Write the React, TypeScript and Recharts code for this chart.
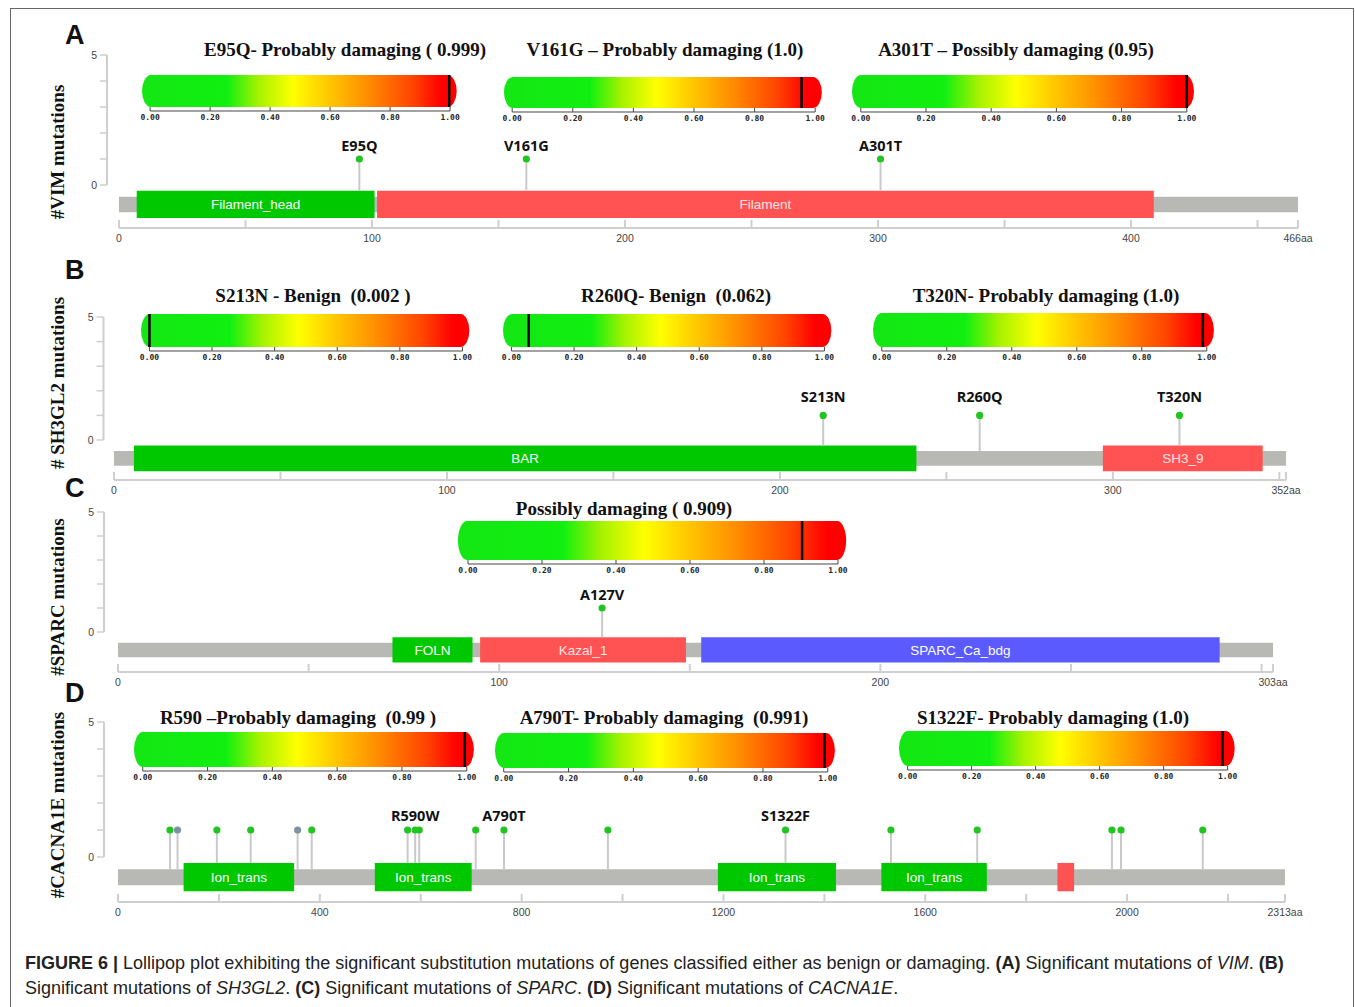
import { ComposedChart, XAxis, YAxis, Scatter, ReferenceArea, ReferenceLine } from "recharts"

// ---------- data ----------
const vimLength = 466
const vimTicks = [0, 50, 100, 150, 200, 250, 300, 350, 400, 450, 466]
const vimTickLabels = [0, 100, 200, 300, 400, 466]
const vimDomains = [
    { name: "Filament_head", start: 7, end: 101 },
    { name: "Filament", start: 102, end: 409 },
]
const vimMutations = [
    { pos: 95, count: 1, label: "E95Q", type: "missense" },
    { pos: 161, count: 1, label: "V161G", type: "missense" },
    { pos: 301, count: 1, label: "A301T", type: "missense" },
]
const vimScores = [
    { title: "E95Q- Probably damaging ( 0.999)", score: 0.997 },
    { title: "V161G – Probably damaging (1.0)", score: 0.955 },
    { title: "A301T – Possibly damaging (0.95)", score: 1.0 },
]

const sh3Length = 352
const sh3Ticks = [0, 50, 100, 150, 200, 250, 300, 350, 352]
const sh3TickLabels = [0, 100, 200, 300, 352]
const sh3Domains = [
    { name: "BAR", start: 6, end: 241 },
    { name: "SH3_9", start: 297, end: 345 },
]
const sh3Mutations = [
    { pos: 213, count: 1, label: "S213N", type: "missense" },
    { pos: 260, count: 1, label: "R260Q", type: "missense" },
    { pos: 320, count: 1, label: "T320N", type: "missense" },
]
const sh3Scores = [
    { title: "S213N - Benign  (0.002 )", score: 0.0 },
    { title: "R260Q- Benign  (0.062)", score: 0.055 },
    { title: "T320N- Probably damaging (1.0)", score: 0.988 },
]

const sparcLength = 303
const sparcTicks = [0, 50, 100, 150, 200, 250, 300, 303]
const sparcTickLabels = [0, 100, 200, 303]
const sparcDomains = [
    { name: "FOLN", start: 72, end: 93 },
    { name: "Kazal_1", start: 95, end: 149 },
    { name: "SPARC_Ca_bdg", start: 153, end: 289 },
]
const sparcMutations = [
    { pos: 127, count: 1, label: "A127V", type: "missense" },
]
const sparcScores = [
    { title: "Possibly damaging ( 0.909)", score: 0.903 },
]

const cacLength = 2313
const cacTicks = [0, 200, 400, 600, 800, 1000, 1200, 1400, 1600, 1800, 2000, 2200, 2313]
const cacTickLabels = [0, 400, 800, 1200, 1600, 2000, 2313]
const cacDomains = [
    { name: "Ion_trans", start: 130, end: 349 },
    { name: "Ion_trans", start: 509, end: 701 },
    { name: "Ion_trans", start: 1189, end: 1423 },
    { name: "Ion_trans", start: 1513, end: 1722 },
    { name: "", start: 1862, end: 1895 },
]
const cacMutations = [
    { pos: 103, count: 1, label: "", type: "missense" },
    { pos: 118, count: 1, label: "", type: "other" },
    { pos: 196, count: 1, label: "", type: "missense" },
    { pos: 263, count: 1, label: "", type: "missense" },
    { pos: 356, count: 1, label: "", type: "other" },
    { pos: 384, count: 1, label: "", type: "missense" },
    { pos: 574, count: 1, label: "", type: "missense" },
    { pos: 589, count: 1, label: "R590W", type: "missense" },
    { pos: 597, count: 1, label: "", type: "missense" },
    { pos: 709, count: 1, label: "", type: "missense" },
    { pos: 765, count: 1, label: "A790T", type: "missense" },
    { pos: 971, count: 1, label: "", type: "missense" },
    { pos: 1323, count: 1, label: "S1322F", type: "missense" },
    { pos: 1532, count: 1, label: "", type: "missense" },
    { pos: 1703, count: 1, label: "", type: "missense" },
    { pos: 1970, count: 1, label: "", type: "missense" },
    { pos: 1988, count: 1, label: "", type: "missense" },
    { pos: 2150, count: 1, label: "", type: "missense" },
]
const cacScores = [
    { title: "R590 –Probably damaging  (0.99 )", score: 0.994 },
    { title: "A790T- Probably damaging  (0.991)", score: 0.99 },
    { title: "S1322F- Probably damaging (1.0)", score: 0.984 },
]

const scoreTicks = [0, 0.2, 0.4, 0.6, 0.8, 1]
const countTicks = [0, 1, 2, 3, 4, 5]

// ---------- styles / layout ----------
const GREEN = "#00c800"
const RED = "#ff5252"
const BLUE = "#5a5aff"
const DOMAIN_FILL: Record<string, string> = {
    Filament_head: GREEN, Filament: RED, BAR: GREEN, SH3_9: RED,
    FOLN: GREEN, Kazal_1: RED, SPARC_Ca_bdg: BLUE, Ion_trans: GREEN, "": RED,
}
const DOT_FILL: Record<string, string> = { missense: "#22c422", other: "#8091a3" }
const TRACK = { domTop: -0.22, bbTop: -0.45, bbBot: -1.05, domBot: -1.27 }
const AXIS_GRAY = "#cfcfcf"
const CAP_LO = -0.027 // rounded caps of the score bar reach a little past 0 and 1
const CAP_HI = 1.022

const panels = [
    {
        letter: "A", letterY: 35, yLabel: "#VIM mutations", yLabelCy: 152,
        len: vimLength, ticks: vimTicks, tickLabels: vimTickLabels, domains: vimDomains, muts: vimMutations, scores: vimScores,
        plotLeft: 107, x0: 119, xLen: 1298, y5: 55, y0: 185, axisY: 228, labelOff: 8,
        bars: [
            { tick0: 150, tick1: 450, top: 75, bottom: 107, cx: 345, ty: 50 },
            { tick0: 512, tick1: 815, top: 77, bottom: 108, cx: 665, ty: 50 },
            { tick0: 861, tick1: 1187, top: 75, bottom: 108, cx: 1016, ty: 50 },
        ],
    },
    {
        letter: "B", letterY: 270, yLabel: "# SH3GL2 mutations", yLabelCy: 383,
        len: sh3Length, ticks: sh3Ticks, tickLabels: sh3TickLabels, domains: sh3Domains, muts: sh3Mutations, scores: sh3Scores,
        plotLeft: 103.5, x0: 114, xLen: 1286, y5: 317, y0: 440, axisY: 480, labelOff: 13,
        bars: [
            { tick0: 149, tick1: 462, top: 314, bottom: 347, cx: 313, ty: 296 },
            { tick0: 511, tick1: 824, top: 314, bottom: 347, cx: 676, ty: 296 },
            { tick0: 882, tick1: 1207, top: 313, bottom: 347, cx: 1046, ty: 296 },
        ],
    },
    {
        letter: "C", letterY: 488, yLabel: "#SPARC mutations", yLabelCy: 597,
        len: sparcLength, ticks: sparcTicks, tickLabels: sparcTickLabels, domains: sparcDomains, muts: sparcMutations, scores: sparcScores,
        plotLeft: 104, x0: 118, xLen: 1273, y5: 512, y0: 632, axisY: 672, labelOff: 8,
        bars: [
            { tick0: 468, tick1: 838, top: 521, bottom: 560, cx: 624, ty: 509 },
        ],
    },
    {
        letter: "D", letterY: 693, yLabel: "#CACNA1E mutations", yLabelCy: 805,
        len: cacLength, ticks: cacTicks, tickLabels: cacTickLabels, domains: cacDomains, muts: cacMutations, scores: cacScores,
        plotLeft: 104, x0: 118, xLen: 1285, y5: 722, y0: 857, axisY: 902, labelOff: 9,
        bars: [
            { tick0: 143, tick1: 467, top: 732, bottom: 767, cx: 298, ty: 718 },
            { tick0: 504, tick1: 828, top: 733, bottom: 768, cx: 664, ty: 718 },
            { tick0: 908, tick1: 1228, top: 731, bottom: 766, cx: 1053, ty: 718 },
        ],
    },
]

// tick that points up from the axis line, label below
function UpTick(props: any) {
    const { x, y, payload, fmt, size, font, weight, color, tickLen, dy, stroke, sw } = props
    const text = fmt(payload.value)
    return (
        <g>
            <line x1={x} y1={y} x2={x} y2={y - tickLen} stroke={stroke} strokeWidth={sw} />
            {text !== "" && (
                <text x={x} y={y + dy} textAnchor="middle" fontSize={size} fontFamily={font} fontWeight={weight} fill={color}>
                    {text}
                </text>
            )}
        </g>
    )
}

function ScoreBar({ s, g, id }: any) {
    const w = g.tick1 - g.tick0
    const h = g.bottom - g.top
    const gap = 4
    const lo = -gap / h
    const plotL = g.tick0 + CAP_LO * w
    const plotR = g.tick0 + CAP_HI * w
    const side = 16
    const H = h + gap + 16
    const W = plotR - plotL + side * 2
    return (
        <>
            <div style={{
                position: "absolute", left: g.cx, top: g.ty - 12, transform: "translateX(-50%)", whiteSpace: "pre",
                fontFamily: "'Liberation Serif', serif", fontWeight: 700, fontSize: 19, lineHeight: "24px", color: "#111",
            }}>
                {s.title}
            </div>
            <div style={{ position: "absolute", left: plotL - side, top: g.top, width: W, height: H }}>
                <ComposedChart width={W} height={H} data={[s]} margin={{ top: 0, right: side, bottom: 0, left: side }}>
                    <defs>
                        <linearGradient id={id} x1="0" y1="0" x2="1" y2="0">
                            <stop offset="0" stopColor="#14e614" />
                            <stop offset="0.27" stopColor="#10f010" />
                            <stop offset="0.37" stopColor="#a6f200" />
                            <stop offset="0.48" stopColor="#ffff00" />
                            <stop offset="0.6" stopColor="#ffc400" />
                            <stop offset="0.72" stopColor="#ff8c00" />
                            <stop offset="0.86" stopColor="#ff4400" />
                            <stop offset="0.95" stopColor="#ff0000" />
                            <stop offset="1" stopColor="#ff0000" />
                        </linearGradient>
                    </defs>
                    <XAxis
                        type="number" dataKey="score" domain={[CAP_LO, CAP_HI]} ticks={scoreTicks} interval={0} allowDataOverflow
                        axisLine={false} tickLine={false} tickSize={0} tickMargin={0} height={16}
                        tick={(t: any) => (
                            <UpTick {...t} fmt={(v: number) => v.toFixed(2)} size={8} font="'DejaVu Sans Mono', monospace"
                                weight={700} color="#222" tickLen={4} dy={9} stroke="#444" sw={1} />
                        )}
                    />
                    <YAxis type="number" domain={[lo, 1]} allowDataOverflow width={0} tick={false} axisLine={false} tickLine={false} />
                    <ReferenceArea
                        x1={CAP_LO} x2={CAP_HI} y1={0} y2={1} fill={`url(#${id})`} fillOpacity={1}
                        shape={(p: any) => (
                            <rect x={p.x} y={p.y} width={p.width} height={p.height} rx={9} ry={p.height / 2} fill={`url(#${id})`} />
                        )}
                    />
                    <ReferenceLine segment={[{ x: 0, y: lo }, { x: 1, y: lo }]} stroke="#444" strokeWidth={1} />
                    <ReferenceLine segment={[{ x: s.score, y: 0 }, { x: s.score, y: 1 }]} stroke="#000" strokeWidth={2.5} />
                </ComposedChart>
            </div>
        </>
    )
}

function LollipopPanel({ p, idx }: any) {
    const pxPerAa = (p.xLen - p.x0) / p.len
    const pad = (p.x0 - p.plotLeft) / pxPerAa
    const pxPerUnit = (p.y0 - p.y5) / 5
    const yMin = -(p.axisY - p.y0) / pxPerUnit
    const top = p.y5 - 12
    const height = p.axisY - top + 30
    const yAxisW = 40
    const inDomain = (pos: number) => p.domains.some((d: any) => pos >= d.start && pos <= d.end)
    const fmtX = (v: number) => (!p.tickLabels.includes(v) ? "" : v === p.len ? `${v}aa` : String(v))
    const labeled = p.muts.filter((m: any) => m.label)

    return (
        <>
            <div style={{
                position: "absolute", left: 65, top: p.letterY - 16, fontFamily: "'Liberation Sans', Arial, sans-serif",
                fontWeight: 700, fontSize: 27, lineHeight: "32px", color: "#111",
            }}>
                {p.letter}
            </div>
            <div style={{
                position: "absolute", left: 58, top: p.yLabelCy, transform: "translate(-50%, -50%) rotate(-90deg)",
                whiteSpace: "pre", fontFamily: "'Liberation Serif', serif", fontWeight: 700, fontSize: 19, color: "#111",
            }}>
                {p.yLabel}
            </div>
            <div style={{ position: "absolute", left: 0, top, width: 1355, height }}>
                <ComposedChart
                    width={1355} height={height}
                    margin={{ top: p.y5 - top, right: 1355 - p.xLen, bottom: 0, left: p.plotLeft - yAxisW }}
                >
                    <XAxis
                        type="number" dataKey="pos" domain={[-pad, p.len]} ticks={p.ticks} interval={0} allowDataOverflow
                        axisLine={false} tickLine={false} tickSize={0} tickMargin={0} height={30}
                        tick={(t: any) => (
                            <UpTick {...t} fmt={fmtX} size={10.5} font="'Liberation Sans', Arial, sans-serif"
                                weight={400} color="#444" tickLen={8} dy={14} stroke={AXIS_GRAY} sw={2} />
                        )}
                    />
                    <YAxis
                        type="number" dataKey="count" domain={[yMin, 5]} ticks={countTicks} interval={0} allowDataOverflow
                        axisLine={false} width={yAxisW} tickSize={7} tickMargin={3}
                        tickLine={{ stroke: AXIS_GRAY, strokeWidth: 1.5 }}
                        tickFormatter={(v: number) => (v === 0 || v === 5 ? String(v) : "")}
                        tick={{ fontSize: 10.5, fill: "#444", fontFamily: "'Liberation Sans', Arial, sans-serif" }}
                    />
                    <ReferenceLine segment={[{ x: -pad, y: 0 }, { x: -pad, y: 5 }]} stroke={AXIS_GRAY} strokeWidth={2} />
                    <ReferenceLine segment={[{ x: 0, y: yMin }, { x: p.len, y: yMin }]} stroke={AXIS_GRAY} strokeWidth={2} />
                    {p.muts.map((m: any, i: number) => (
                        <ReferenceLine
                            key={`stick-${i}`}
                            segment={[{ x: m.pos, y: m.count }, { x: m.pos, y: inDomain(m.pos) ? TRACK.domTop : TRACK.bbTop }]}
                            stroke="#c9c9c9" strokeWidth={2}
                        />
                    ))}
                    <ReferenceArea x1={0} x2={p.len} y1={TRACK.bbBot} y2={TRACK.bbTop} fill="#b8b9b4" fillOpacity={1} />
                    {p.domains.map((d: any, i: number) => (
                        <ReferenceArea
                            key={`dom-${i}`} x1={d.start} x2={d.end} y1={TRACK.domBot} y2={TRACK.domTop}
                            fill={DOMAIN_FILL[d.name]} fillOpacity={1}
                            label={{
                                value: d.name, position: "center", fill: DOMAIN_FILL[d.name] === RED ? "#ffe4e4" : "#ffffff",
                                fontSize: 13.5, fontFamily: "'Liberation Sans', Arial, sans-serif",
                            }}
                        />
                    ))}
                    <Scatter
                        data={p.muts} isAnimationActive={false}
                        shape={(s: any) => <circle cx={s.cx} cy={s.cy} r={3.6} fill={DOT_FILL[s.payload.type]} />}
                    />
                    <Scatter
                        data={labeled} isAnimationActive={false}
                        shape={(s: any) => (
                            <text x={s.cx} y={s.cy - p.labelOff} textAnchor="middle" fontSize={14.5} fontWeight={700}
                                fontFamily="'Open Sans', sans-serif" fill="#111">
                                {s.payload.label}
                            </text>
                        )}
                    />
                </ComposedChart>
            </div>
            {p.scores.map((s: any, i: number) => (
                <ScoreBar key={i} s={s} g={p.bars[i]} id={`grad-${idx}-${i}`} />
            ))}
        </>
    )
}

export default function App() {
    const cap = { position: "absolute" as const, left: 25, whiteSpace: "nowrap" as const, fontSize: 18, lineHeight: "22px", color: "#222" }
    return (
        <div style={{ position: "absolute", left: 0, top: 0, width: 1355, height: 1007, overflow: "hidden", background: "#fff", fontFamily: "'Liberation Sans', Arial, sans-serif" }}>
            <div style={{ position: "absolute", left: 10, top: 8, width: 1342, height: 1010, border: "1px solid #666" }} />
            {panels.map((p, i) => (
                <LollipopPanel key={p.letter} p={p} idx={i} />
            ))}
            <div style={{ ...cap, top: 952 }}>
                <b>FIGURE 6 |</b> Lollipop plot exhibiting the significant substitution mutations of genes classified either as benign or damaging. <b>(A)</b> Significant mutations of <i>VIM</i>. <b>(B)</b>
            </div>
            <div style={{ ...cap, top: 977 }}>
                Significant mutations of <i>SH3GL2</i>. <b>(C)</b> Significant mutations of <i>SPARC</i>. <b>(D)</b> Significant mutations of <i>CACNA1E</i>.
            </div>
        </div>
    )
}
